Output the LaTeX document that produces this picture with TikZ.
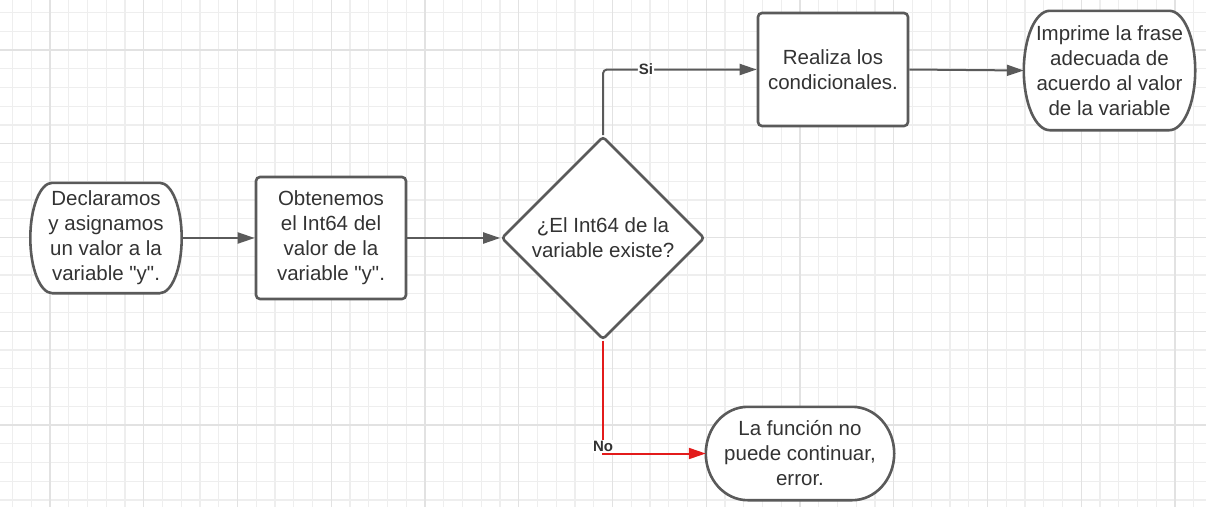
\documentclass[tikz,border=0pt]{standalone}
\usepackage{fontspec}
\newfontfamily\lsans{Liberation Sans}
\usetikzlibrary{arrows.meta,shapes.geometric,calc,backgrounds}
\definecolor{ln}{HTML}{5A5A5A}
\definecolor{tx}{HTML}{333333}
\definecolor{rd}{HTML}{E31B1B}
\definecolor{gmin}{HTML}{EEEEEE}
\definecolor{gmaj}{HTML}{E2E2E2}
\tikzset{
  txt/.style={font=\lsans\fontsize{20.5}{25}\selectfont, text=tx, align=center, inner sep=0pt},
  proc/.style={txt, draw=ln, line width=2.6pt, rounded corners=4pt, fill=white},
  term/.style={txt},
  border/.style={draw=ln, line width=2.6pt, fill=white},
  dec/.style={txt, diamond, draw=ln, line width=2.6pt, fill=white, minimum width=203pt, minimum height=203pt, rounded corners=3pt},
  conn/.style={draw=ln, line width=2pt, -{Triangle[length=17pt,width=11pt]}},
  noconn/.style={draw=rd, line width=2pt, -{Triangle[length=17pt,width=11pt]}},
  lab/.style={font=\lsans\bfseries\fontsize{15}{18}\selectfont, text=tx, fill=white, inner sep=1pt}
}
\newcommand\stadborder[2]{%
  \path[border] let \p1=(#1.north west), \p2=(#1.south east), \n1={(\y1-\y2)/2} in
    (\x1+#2pt,\y1) -- (\x2-#2pt,\y1)
    arc[start angle=90,end angle=-90,x radius=#2pt,y radius=\n1]
    -- (\x1+#2pt,\y2)
    arc[start angle=270,end angle=90,x radius=#2pt,y radius=\n1] -- cycle;}
\begin{document}
\begin{tikzpicture}[x=1pt,y=1pt]
\useasboundingbox (0,0) rectangle (1206,-507);
\begin{scope}[on background layer]
  \fill[white] (0,0) rectangle (1206,-507);
  \foreach \i in {0,...,63} \draw[gmin, line width=1.2pt] ({12.5+18.75*\i},0) -- ++(0,-507);
  \foreach \i in {0,...,26} \draw[gmin, line width=1.2pt] (0,{-12.5-18.75*\i}) -- ++(1206,0);
  \foreach \i in {0,...,12} \draw[gmaj, line width=1.3pt] ({50+93.75*\i},0) -- ++(0,-507);
  \foreach \i in {0,...,4} \draw[gmaj, line width=1.3pt] (0,{-50-93.75*\i}) -- ++(1206,0);
\end{scope}

\node[term, minimum width=151pt, minimum height=110pt] (a) at (106,-238)
  {Declaramos\\y asignamos\\un valor a la\\variable "y".};
\node[proc, minimum width=150pt, minimum height=122pt] (b) at (331,-238)
  {Obtenemos\\el Int64 del\\valor de la\\variable "y".};
\node[dec] (d) at (603,-238) {¿El Int64 de la\\variable existe?};
\node[proc, minimum width=150pt, minimum height=113pt] (r) at (833,-69.5)
  {Realiza los\\condicionales.};
\node[term, minimum width=171pt, minimum height=119pt] (p) at (1109.5,-70.5)
  {Imprime la frase\\adecuada de\\acuerdo al valor\\de la variable};
\node[term, minimum width=188pt, minimum height=93pt] (f) at (800,-453.5)
  {La función no\\puede continuar,\\error.};

\begin{scope}[on background layer]
  \stadborder{a}{22}
  \stadborder{p}{26}
  \stadborder{f}{42}
\end{scope}

\draw[conn] (a.east) -- (b.west);
\draw[conn] (b.east) -- (d.west);
\draw[conn, rounded corners=4pt] (d.north) |- node[lab, pos=0.64] {Si} (r.west);
\draw[conn] (r.east) -- (p.west);
\draw[noconn] (d.south) |- node[lab, pos=0.5, yshift=7pt] {No} (f.west);
\end{tikzpicture}
\end{document}
